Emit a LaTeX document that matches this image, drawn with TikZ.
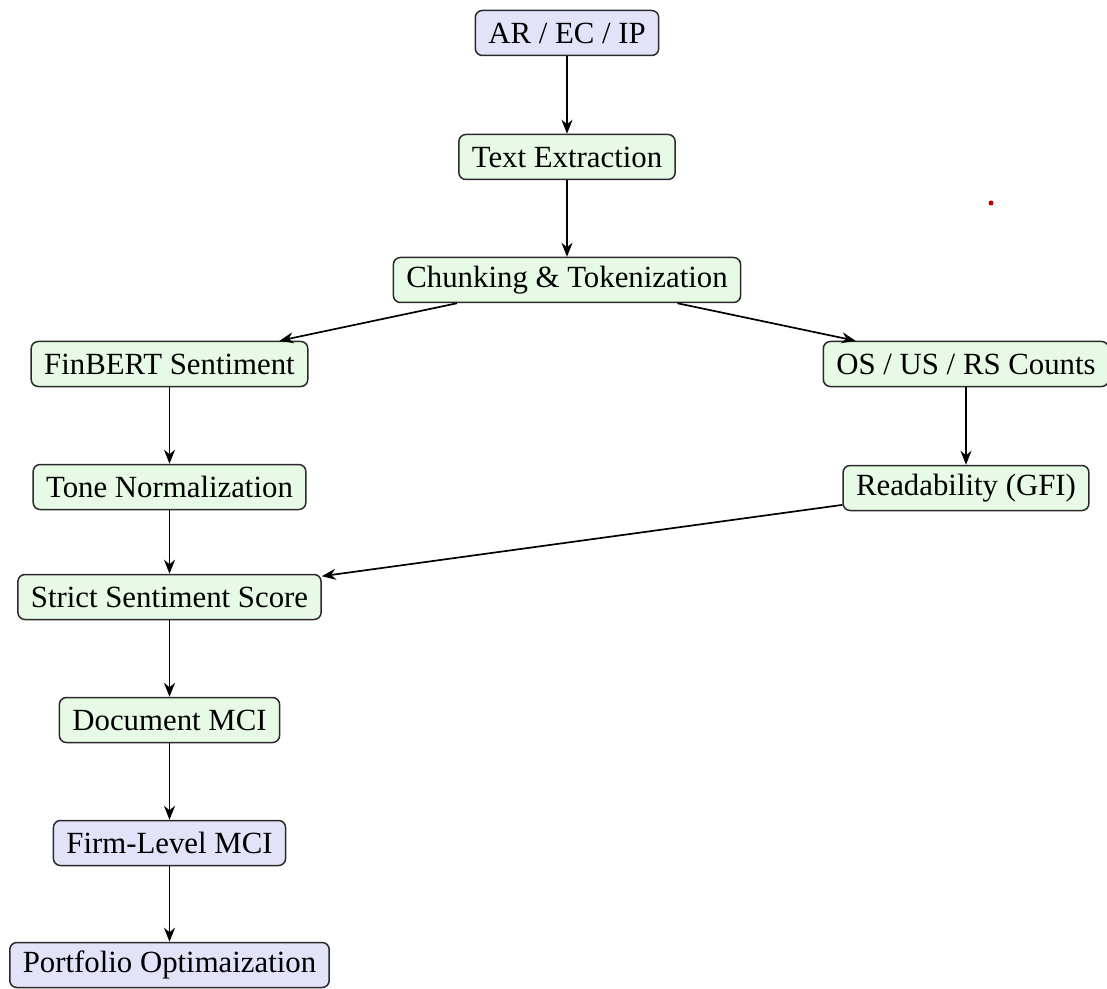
\documentclass[tikz,border=0pt]{standalone}
\usepackage{fontspec}
\setmainfont{Liberation Serif}
\usetikzlibrary{arrows.meta}
\definecolor{gfill}{HTML}{E6FAE6}
\definecolor{bfill}{HTML}{E2E2F8}
\definecolor{edge}{HTML}{2A2A2A}
\tikzset{
  box/.style={draw=edge, line width=0.75pt, rounded corners=3.5pt, minimum height=22.5pt,
    inner xsep=6.5pt, inner ysep=2pt, font=\fontsize{15.4}{18}\selectfont, text=black},
  gbox/.style={box, fill=gfill},
  bbox/.style={box, fill=bfill},
  arr/.style={draw=black, line width=0.85pt, -{Stealth[length=7pt,width=5.5pt]}}
}
\begin{document}
\begin{tikzpicture}[x=0.5pt,y=-0.5pt]
\useasboundingbox (0,0) rectangle (1107,989);
\node[bbox] (ar) at (567,33) {AR / EC / IP};
\node[gbox] (te) at (567,157) {Text Extraction};
\node[gbox] (ct) at (567,280) {Chunking \& Tokenization};
\node[gbox] (fb) at (169.5,364) {FinBERT Sentiment};
\node[gbox] (os) at (966,364) {OS / US / RS Counts};
\node[gbox] (tn) at (169.5,487) {Tone Normalization};
\node[gbox] (rd) at (966,488) {Readability (GFI)};
\node[gbox] (ss) at (169.5,597) {Strict Sentiment Score};
\node[gbox] (dm) at (169.5,720) {Document MCI};
\node[bbox] (fm) at (169.5,843) {Firm-Level MCI};
\node[bbox] (po) at (169.5,965) {Portfolio Optimaization};
\draw[arr] (ar) -- (te);
\draw[arr] (te) -- (ct);
\draw[arr] (ct) -- (fb);
\draw[arr] (ct) -- (os);
\draw[arr] (fb) -- (tn);
\draw[arr] (os) -- (rd);
\draw[arr] (tn) -- (ss);
\draw[arr] (rd) -- (ss);
\draw[arr] (ss) -- (dm);
\draw[arr] (dm) -- (fm);
\draw[arr] (fm) -- (po);
\fill[red!75!black] (991,203) circle (2.5);
\end{tikzpicture}
\end{document}
